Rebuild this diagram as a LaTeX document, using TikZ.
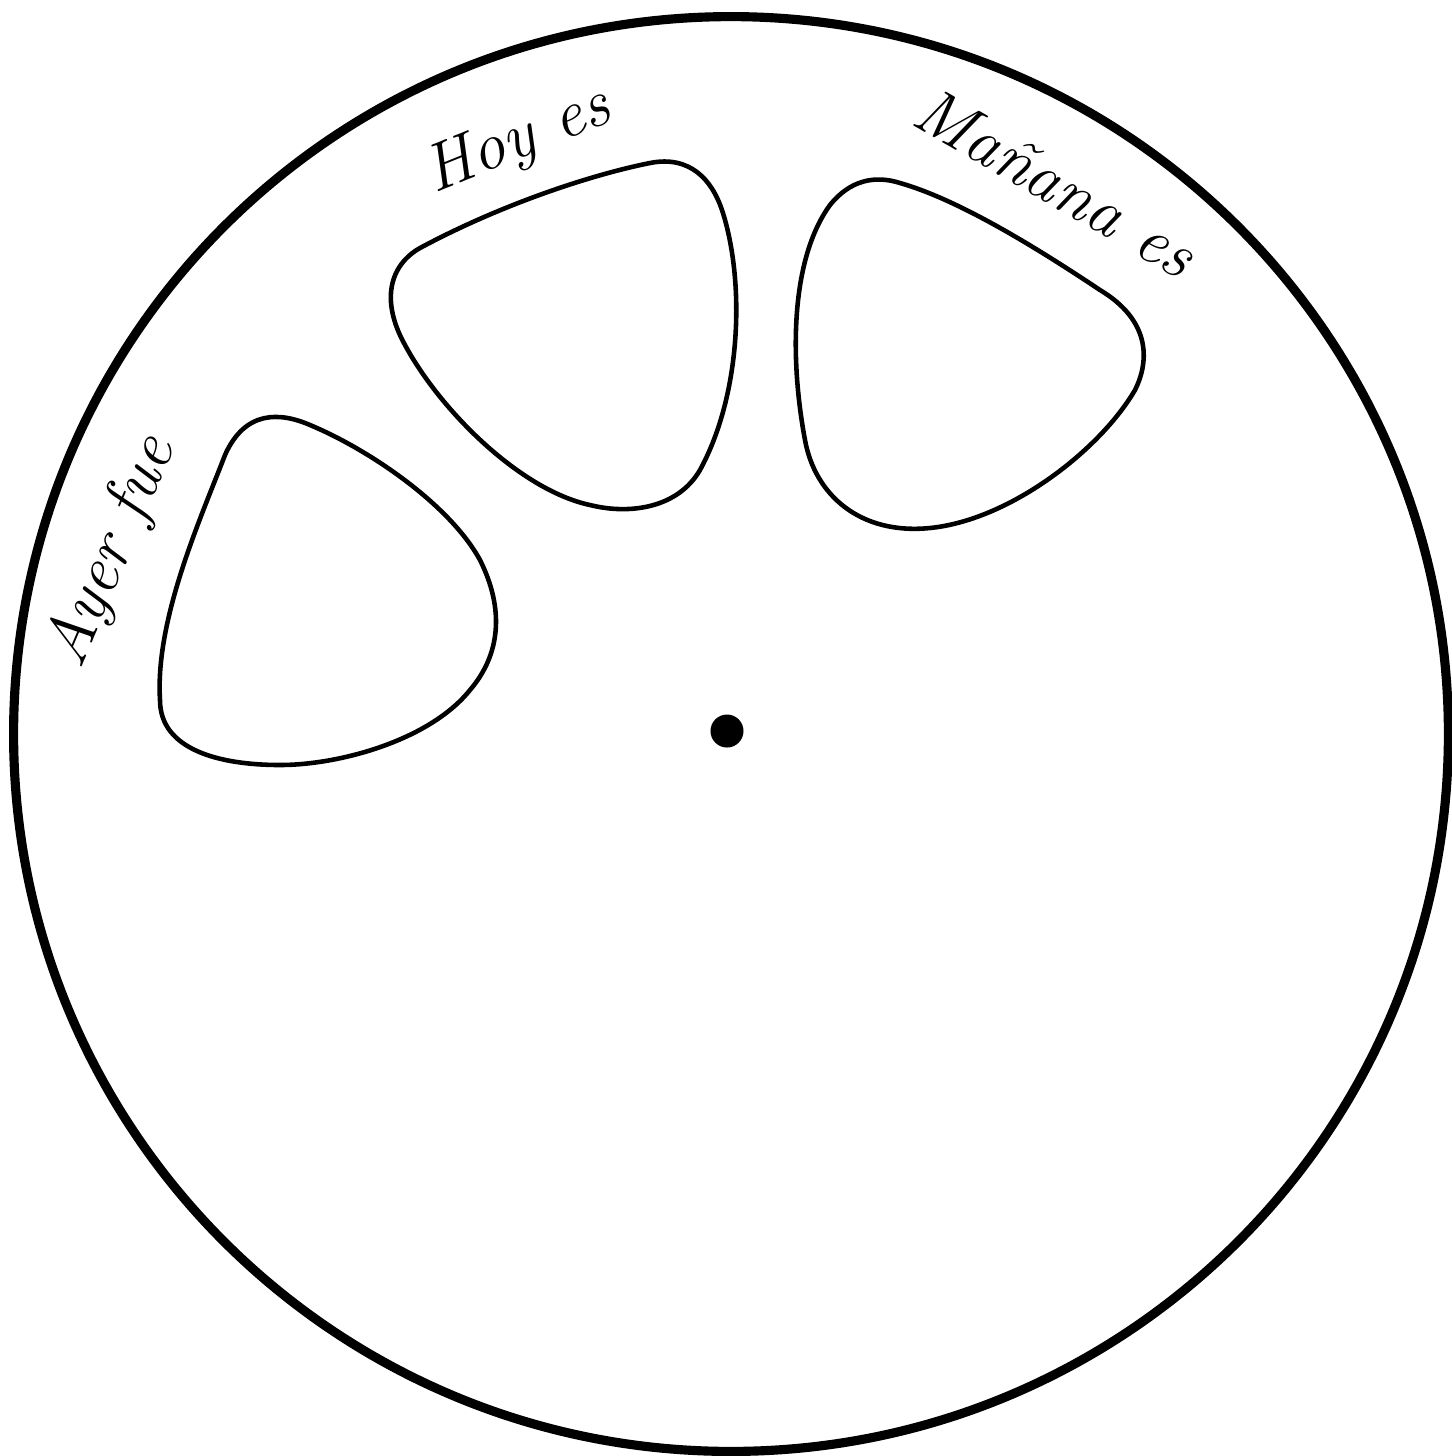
\documentclass[tikz,border=0pt]{standalone}
\usepackage{tikz}
\usetikzlibrary{positioning,calc}
\tikzset{
  every picture/.style={line width=0.7pt},
  sRim/.style={draw, line width=2.6pt},
  sWindow/.style={draw, line width=1.3pt},
  sHub/.style={circle, fill=black, inner sep=0pt, minimum size=0.33cm},
  sWord/.style={font=\itshape\fontsize{19}{23}\selectfont, inner sep=0pt},
}

\begin{document}
\begin{tikzpicture}[x=0.01cm, y=-0.01cm]
  \useasboundingbox (0,0) rectangle (1452,1456);
  % disc and centre hole
  \coordinate (C) at (731,734);
  \draw[sRim] (C) circle[radius=7.17cm];
  \node[sHub] (hub) at (727,731) {};
  % window under "Hoy es"
  \draw[sWindow] (420,248) .. controls (500,205) and (590,175) .. (650,163)
    .. controls (690,155) and (712,180) .. (722,210)
    .. controls (745,280) and (742,393) .. (700,470)
    .. controls (678,508) and (630,515) .. (590,505)
    .. controls (520,490) and (440,410) .. (405,345)
    .. controls (380,300) and (390,265) .. cycle;
  % window under "Mañana es"
  \draw[sWindow] (900,183) .. controls (960,200) and (1040,250) .. (1100,290)
    .. controls (1150,320) and (1150,360) .. (1135,390)
    .. controls (1100,450) and (1010,520) .. (930,528)
    .. controls (860,535) and (815,495) .. (805,440)
    .. controls (790,360) and (790,260) .. (830,205)
    .. controls (850,180) and (875,175) .. cycle;
  % window beside "Ayer fue"
  \draw[sWindow] (310,425) .. controls (370,450) and (450,505) .. (480,560)
    .. controls (505,610) and (500,655) .. (470,690)
    .. controls (430,740) and (340,765) .. (280,765)
    .. controls (220,765) and (160,750) .. (160,700)
    .. controls (155,620) and (200,520) .. (225,455)
    .. controls (245,410) and (280,412) .. cycle;
  % labels
  \node[sWord, rotate=22] (hoy) at (518,142) {Hoy es};
  \node[sWord, rotate=-30] (manana) at (1056,182) {Mañana es};
  \node[sWord, rotate=67] (ayer) at (112,552) {Ayer fue};
\end{tikzpicture}
\end{document}
